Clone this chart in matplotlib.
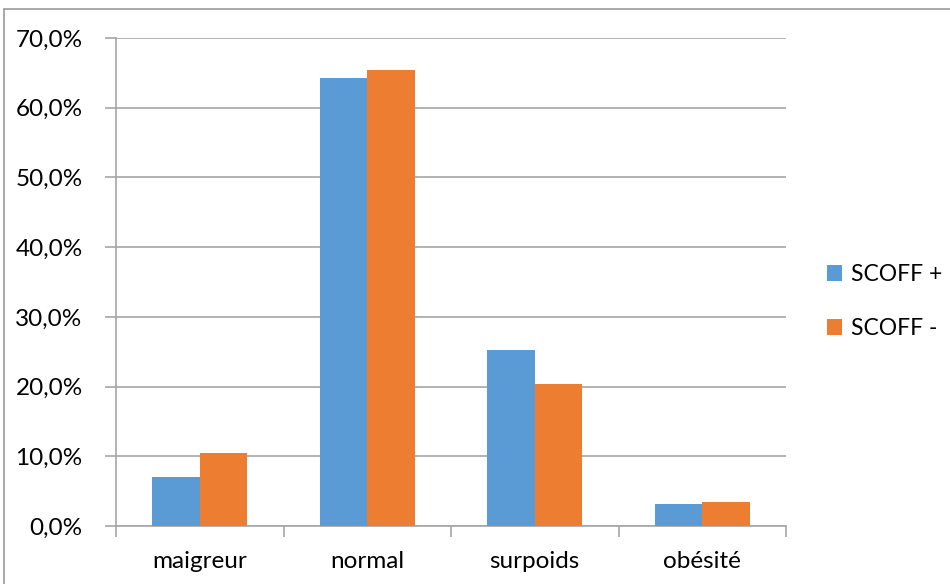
import matplotlib.pyplot as plt
import matplotlib.patches as patches
import numpy as np

plt.rcParams['font.family'] = ['Lato', 'DejaVu Sans']

# données
categories = ['maigreur', 'normal', 'surpoids', 'obésité']
scoff_pos = [7.1, 64.2, 25.2, 3.2]
scoff_neg = [10.4, 65.4, 20.4, 3.4]
series_names = ['SCOFF +', 'SCOFF -']
yticks = [0, 10, 20, 30, 40, 50, 60, 70]

colors = ['#5B9BD5', '#ED7D31']
grid_color = '#A6A6A6'

fig = plt.figure(figsize=(9.5, 5.84), dpi=100)
fig.patch.set_facecolor('white')
ax = fig.add_axes([116/950, 58/584, 670/950, 488/584])

x = np.arange(len(categories))
w = 0.285
ax.bar(x - w/2, scoff_pos, w, color=colors[0], label=series_names[0], zorder=3)
ax.bar(x + w/2, scoff_neg, w, color=colors[1], label=series_names[1], zorder=3)

ax.set_xlim(-0.5, len(categories) - 0.5)
ax.set_ylim(0, 70)
ax.set_yticks(yticks)
ax.set_yticklabels([f'{v:.1f}%'.replace('.', ',') for v in yticks], fontsize=17.5)
ax.yaxis.grid(True, color=grid_color, lw=1.2, zorder=0)

# ticks x aux frontières des catégories
ax.set_xticks(np.arange(len(categories) + 1) - 0.5)
ax.set_xticklabels([])
ax.set_xticks(x, minor=True)
ax.set_xticklabels(categories, minor=True, fontsize=17.5)
ax.tick_params(axis='x', which='minor', length=0, pad=18)
ax.tick_params(axis='x', which='major', length=8, color=grid_color, width=1.2)
ax.tick_params(axis='y', length=8, color=grid_color, width=1.2, pad=16)

for s in ['top', 'right']:
    ax.spines[s].set_visible(False)
for s in ['left', 'bottom']:
    ax.spines[s].set_color(grid_color)
    ax.spines[s].set_linewidth(1.2)

ax.legend(loc='center left', bbox_to_anchor=(1.03, 0.46), frameon=False,
          fontsize=16.5, handlelength=0.65, handleheight=0.65, labelspacing=1.45,
          handletextpad=0.4)

# cadre extérieur
fig.patches.append(patches.Rectangle((4/950, -0.05), 1.0, (584-9)/584 + 0.05,
                                     transform=fig.transFigure, fill=False,
                                     edgecolor='#999999', lw=1.2))

plt.savefig('out.png', dpi=100)
